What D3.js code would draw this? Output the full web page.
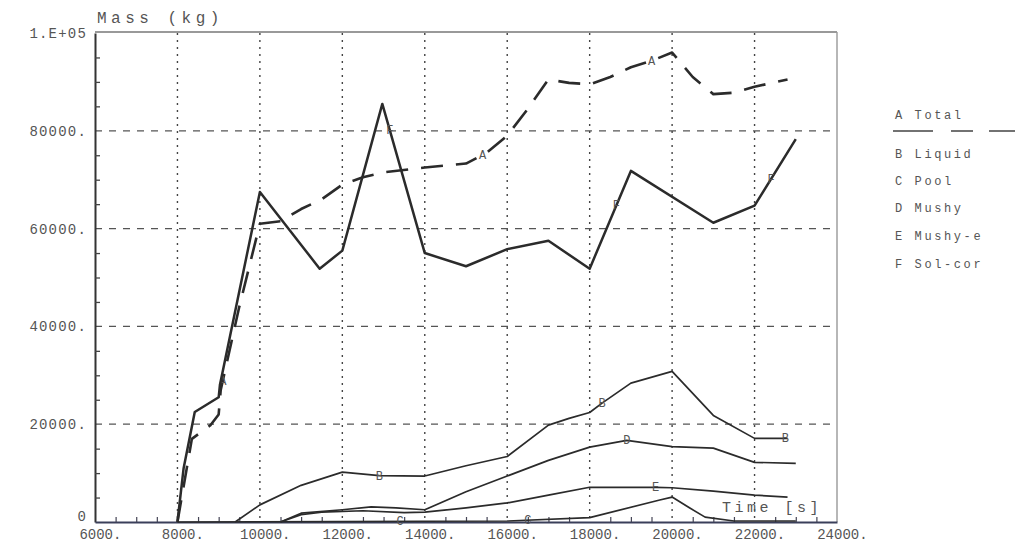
<!DOCTYPE html>
<html><head><meta charset="utf-8">
<script src="https://cdn.jsdelivr.net/npm/d3@7/dist/d3.min.js"></script>
<style>
html,body{margin:0;padding:0;background:#fff;}
svg{display:block;}
text{font-family:"Liberation Mono","DejaVu Sans Mono",monospace;fill:#555;}
</style></head>
<body>
<svg id="chart" width="1020" height="551"></svg>
<script>
// ---- data ----
const xTicks = [6000,8000,10000,12000,14000,16000,18000,20000,22000,24000];
const xTickLabels = ["6000.","8000.","10000.","12000.","14000.","16000.","18000.","20000.","22000.","24000."];
const yTicks = [0,20000,40000,60000,80000,100000];
const yTickLabels = ["0","20000.","40000.","60000.","80000.","1.E+05"];

const totalT = [8000,8350,8800,9000,9050,9500,10000,10500,11000,11500,12000,12500,13000,14000,15000,15500,16000,16500,17000,17500,18000,18500,19000,19500,20000,20500,21000,21500,22000,22800];
const totalV = [0,17000,19800,22000,27000,44000,61000,61500,64000,66000,69000,70500,71500,72500,73300,75500,79000,84500,90500,89800,89500,91000,93000,94300,96000,91000,87500,87800,89000,90500];

const liquidT = [9400,10000,11000,12000,12900,14000,15000,16000,17000,17500,18000,18300,19000,20000,21000,22000,22800];
const liquidV = [0,3500,7500,10200,9500,9400,11500,13400,19800,21200,22400,24300,28400,30800,21800,17100,17100];

const poolT = [8000,16000,18000,19700,20000,20400,20800,21500,23000];
const poolV = [0,200,900,4500,5100,3000,1000,200,200];

const mushyT = [10500,11000,12000,12700,13300,14000,15000,16000,17000,18000,18900,20000,21000,22000,23000];
const mushyV = [0,1800,2500,3100,2900,2500,6200,9400,12600,15300,16700,15400,15100,12200,12000];

const mushyeT = [10500,11000,11500,12500,13500,14000,15000,16000,17000,18000,19600,20000,21000,22000,22800];
const mushyeV = [0,1500,2000,2300,1900,2000,2900,3900,5500,7100,7100,7000,6300,5500,5100];

const solcorT = [8000,8150,8420,9000,9030,10000,11450,12000,12970,14000,15000,16000,17000,18000,19000,21000,22000,23000];
const solcorV = [0,11000,22500,25500,28000,67500,51800,55500,85500,55000,52300,55800,57500,51800,71800,61200,64700,78300];

const seriesNames = ["Total","Liquid","Pool","Mushy","Mushy-e","Sol-cor"];
const seriesLetters = ["A","B","C","D","E","F"];
const markerTimes = [[9100,15400,19500],[12900,18300,22750],[13400,16500],[18900],[19600],[13150,18650,22400]];

// ---- layout ----
const svg = d3.select("#chart");
const L = 95, R = 837, T = 33, B = 522;
const x = d3.scaleLinear().domain([6000,24000]).range([L,R]);
const y = d3.scaleLinear().domain([0,100000]).range([B,T]);

// grid
const g = svg.append("g");
g.selectAll(".hg").data(yTicks.filter(v=>v>0 && v<100000)).join("line")
  .attr("x1",L).attr("x2",R).attr("y1",d=>y(d)).attr("y2",d=>y(d))
  .attr("stroke","#555").attr("stroke-width",1.3).attr("stroke-dasharray","7,7");
g.selectAll(".vg").data(xTicks.filter(v=>v>6000 && v<24000)).join("line")
  .attr("x1",d=>x(d)).attr("x2",d=>x(d)).attr("y1",T).attr("y2",B)
  .attr("stroke","#444").attr("stroke-width",1.4).attr("stroke-dasharray","2,5");

// frame
svg.append("line").attr("x1",L).attr("x2",R).attr("y1",T-1).attr("y2",T-1).attr("stroke","#777").attr("stroke-width",1.6);
svg.append("line").attr("x1",R).attr("x2",R).attr("y1",T-1).attr("y2",B).attr("stroke","#999").attr("stroke-width",1.4);

// axes
const yAxis = d3.axisLeft(y).tickValues(yTicks).tickFormat((d,i)=>yTickLabels[i]).tickSize(0).tickPadding(8);
const ya = svg.append("g").attr("transform",`translate(${L},0)`).call(yAxis);
ya.select(".domain").attr("stroke","#333").attr("stroke-width",2);
ya.selectAll("text").attr("font-size",14).attr("fill","#555").attr("letter-spacing","1.2px").style("font-family","Liberation Mono, monospace");
ya.selectAll(".tick").filter(d=>d===0).select("text").attr("dy","-0.1em");
const yMinor = d3.axisRight(y).tickValues(d3.range(5000,100000,5000).filter(v=>v%20000!==0)).tickFormat("").tickSize(5);
const ym = svg.append("g").attr("transform",`translate(${L},0)`).call(yMinor);
ym.select(".domain").remove();
ym.selectAll("line").attr("stroke","#444").attr("stroke-width",1.3);

const xAxis = d3.axisBottom(x).tickValues(xTicks).tickFormat((d,i)=>xTickLabels[i]).tickSize(0).tickPadding(7);
const xa = svg.append("g").attr("transform",`translate(0,${B})`).call(xAxis);
xa.select(".domain").attr("stroke","#3a3f5a").attr("stroke-width",2);
xa.selectAll("text").attr("font-size",14).attr("fill","#555").attr("dx","0.35em").style("font-family","Liberation Mono, monospace");
const xMinor = d3.axisTop(x).tickValues(d3.range(6500,24000,500).filter(v=>v%2000!==0)).tickFormat("").tickSize(5);
const xm = svg.append("g").attr("transform",`translate(0,${B})`).call(xMinor);
xm.select(".domain").remove();
xm.selectAll("line").attr("stroke","#445").attr("stroke-width",1.2);

// axis titles
svg.append("text").attr("x",L+2).attr("y",23).attr("font-size",16).attr("letter-spacing","4.5px").attr("fill","#555").text("Mass (kg)");
svg.append("text").attr("x",722).attr("y",512).attr("font-size",15).attr("letter-spacing","3.5px").attr("fill","#555").text("Time [s]");

// series
const allT = [totalT,liquidT,poolT,mushyT,mushyeT,solcorT];
const allV = [totalV,liquidV,poolV,mushyV,mushyeV,solcorV];
const widths = [2.6,1.7,1.7,1.7,1.7,2.5];
const line = d3.line().x(d=>x(d[0])).y(d=>y(d[1]));
allT.forEach((ts,i)=>{
  const pts = ts.map((t,j)=>[t,allV[i][j]]);
  svg.append("path").datum(pts).attr("d",line).attr("fill","none")
    .attr("stroke","#2b2b2b").attr("stroke-width",widths[i])
    .attr("stroke-linejoin","round")
    .attr("stroke-dasharray", i===0 ? "22,13" : null);
  // markers (letters placed on the line)
  markerTimes[i].forEach(mt=>{
    let k = d3.bisectRight(ts, mt) - 1; k = Math.max(0, Math.min(k, ts.length-2));
    const f = (mt - ts[k])/(ts[k+1]-ts[k]);
    const v = allV[i][k] + f*(allV[i][k+1]-allV[i][k]);
    svg.append("text").attr("x",x(mt)).attr("y",y(v)+4).attr("text-anchor","middle")
      .attr("font-size",12).attr("fill","#444").text(seriesLetters[i]);
  });
});

// legend
const legY = [119,158,185,212,240,268];
seriesNames.forEach((n,i)=>{
  svg.append("text").attr("x",895).attr("y",legY[i]).attr("font-size",12).attr("letter-spacing","2.6px").attr("fill","#555")
    .text(seriesLetters[i]+" "+n);
});
svg.append("line").attr("x1",893).attr("x2",1015).attr("y1",131).attr("y2",131)
  .attr("stroke","#444").attr("stroke-width",1.6).attr("stroke-dasharray","40,18,22,16,30");
</script>
</body></html>
